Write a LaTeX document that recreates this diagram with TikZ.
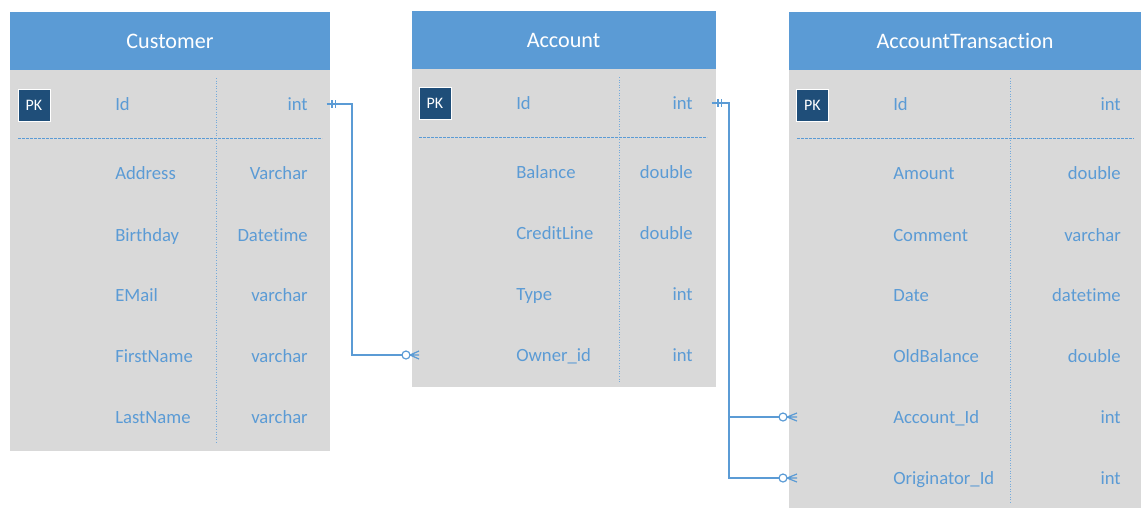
\documentclass[tikz,border=0pt]{standalone}
\usepackage{fontspec}
\setmainfont{Carlito}[RawFeature={-liga;-dlig;-clig;-hlig}]
\definecolor{hdr}{HTML}{5B9BD5}
\definecolor{bodyfill}{HTML}{D9D9D9}
\definecolor{ink}{HTML}{5B9BD5}
\definecolor{pkfill}{HTML}{1F4E79}
\tikzset{
  hdrbox/.style={fill=hdr, draw=none},
  bodybox/.style={fill=bodyfill, draw=none},
  title/.style={anchor=base, text=white, inner sep=0pt, font=\fontsize{16.6}{20}\selectfont},
  fname/.style={anchor=base west, text=ink, inner sep=0pt, font=\fontsize{14}{17}\selectfont},
  ftype/.style={anchor=base east, text=ink, inner sep=0pt, font=\fontsize{14}{17}\selectfont},
  pkbox/.style={fill=pkfill, draw=white, line width=0.6pt, minimum width=24pt, minimum height=24pt,
                inner sep=0pt, text=white, font=\fontsize{12}{14}\selectfont},
  colsep/.style={draw=ink!85, line width=0.75pt, dash pattern=on 0.75pt off 1.2pt},
  rowsep/.style={draw=ink, line width=0.75pt, dash pattern=on 2pt off 1pt},
  link/.style={draw=ink, line width=0.9pt},
}
\begin{document}
\begin{tikzpicture}[x=0.75pt, y=-0.75pt]
\useasboundingbox (0,0) rectangle (1141,508);

% ---------- Customer ----------
\fill[hdrbox] (10,12) rectangle (330,70);
\fill[bodybox] (10,70) rectangle (330,450.5);
\node[title] (cust) at (170,48) {Customer};
\draw[colsep] (216.5,78) -- (216.5,443);
\draw[rowsep] (18,138.5) -- (322,138.5);
\node[pkbox] (cpk) at (34,105) {PK};
\node[fname] (cn1) at (115,110) {Id};
\node[ftype] (ct1) at (308,110) {int};
\node[fname] (cn2) at (115,179) {Address};
\node[ftype] (ct2) at (308,179) {Varchar};
\node[fname] (cn3) at (115,241) {Birthday};
\node[ftype] (ct3) at (308,241) {Datetime};
\node[fname] (cn4) at (115,301) {EMail};
\node[ftype] (ct4) at (308,301) {varchar};
\node[fname] (cn5) at (115,362) {FirstName};
\node[ftype] (ct5) at (308,362) {varchar};
\node[fname] (cn6) at (115,423) {LastName};
\node[ftype] (ct6) at (308,423) {varchar};

% ---------- Account ----------
\fill[hdrbox] (412,10.5) rectangle (715.5,69);
\fill[bodybox] (412,69) rectangle (715.5,387);
\node[title] (acc) at (563.5,47) {Account};
\draw[colsep] (619.5,77) -- (619.5,382);
\draw[rowsep] (419,137) -- (707,137);
\node[pkbox] (apk) at (435,103.5) {PK};
\node[fname] (an1) at (516,109) {Id};
\node[ftype] (at1) at (693,109) {int};
\node[fname] (an2) at (516,178) {Balance};
\node[ftype] (at2) at (693,178) {double};
\node[fname] (an3) at (516,239) {CreditLine};
\node[ftype] (at3) at (693,239) {double};
\node[fname] (an4) at (516,300) {Type};
\node[ftype] (at4) at (693,300) {int};
\node[fname] (an5) at (516,361) {Owner\_id};
\node[ftype] (at5) at (693,361) {int};

% ---------- AccountTransaction ----------
\fill[hdrbox] (789,12) rectangle (1141,70);
\fill[bodybox] (789,70) rectangle (1141,508);
\node[title] (atr) at (965,48) {AccountTransaction};
\draw[colsep] (1010,78) -- (1010,503);
\draw[rowsep] (797,138.5) -- (1134,138.5);
\node[pkbox] (tpk) at (812.5,105) {PK};
\node[fname] (tn1) at (893,110) {Id};
\node[ftype] (tt1) at (1121,110) {int};
\node[fname] (tn2) at (893,179) {Amount};
\node[ftype] (tt2) at (1121,179) {double};
\node[fname] (tn3) at (893,241) {Comment};
\node[ftype] (tt3) at (1121,241) {varchar};
\node[fname] (tn4) at (893,301) {Date};
\node[ftype] (tt4) at (1121,301) {datetime};
\node[fname] (tn5) at (893,362) {OldBalance};
\node[ftype] (tt5) at (1121,362) {double};
\node[fname] (tn6) at (893,423) {Account\_Id};
\node[ftype] (tt6) at (1121,423) {int};
\node[fname] (tn7) at (893,484) {Originator\_Id};
\node[ftype] (tt7) at (1121,484) {int};

% ---------- relationship: Customer.Id -> Account.Owner_id ----------
\coordinate (r1a) at ([xshift=14]ct1.east |- 0,104);
\coordinate (r1b) at (402,355);
\draw[link] (r1a) -- (352,104) |- (r1b);
\draw[link] (332,100) -- (332,108) (335.5,100) -- (335.5,108);
\draw[link] (406,355) circle[radius=4];
\draw[link] (410,355) -- (419,355) (410,355) -- (419,351) (410,355) -- (419,359);

% ---------- relationship: Account.Id -> AccountTransaction ----------
\coordinate (r2a) at ([xshift=14]at1.east |- 0,103);
\coordinate (r2b) at (779,417);
\coordinate (r2c) at (779,478);
\draw[link] (r2a) -- (729,103) |- (r2b);
\draw[link] (729,417) |- (r2c);
\draw[link] (718,99) -- (718,107) (721.5,99) -- (721.5,107);
\foreach \yy in {417,478}{
  \draw[link] (783,\yy) circle[radius=4];
  \draw[link] (787,\yy) -- (797,\yy) (787,\yy) -- (797,\yy-4) (787,\yy) -- (797,\yy+4);
}
\end{tikzpicture}
\end{document}
